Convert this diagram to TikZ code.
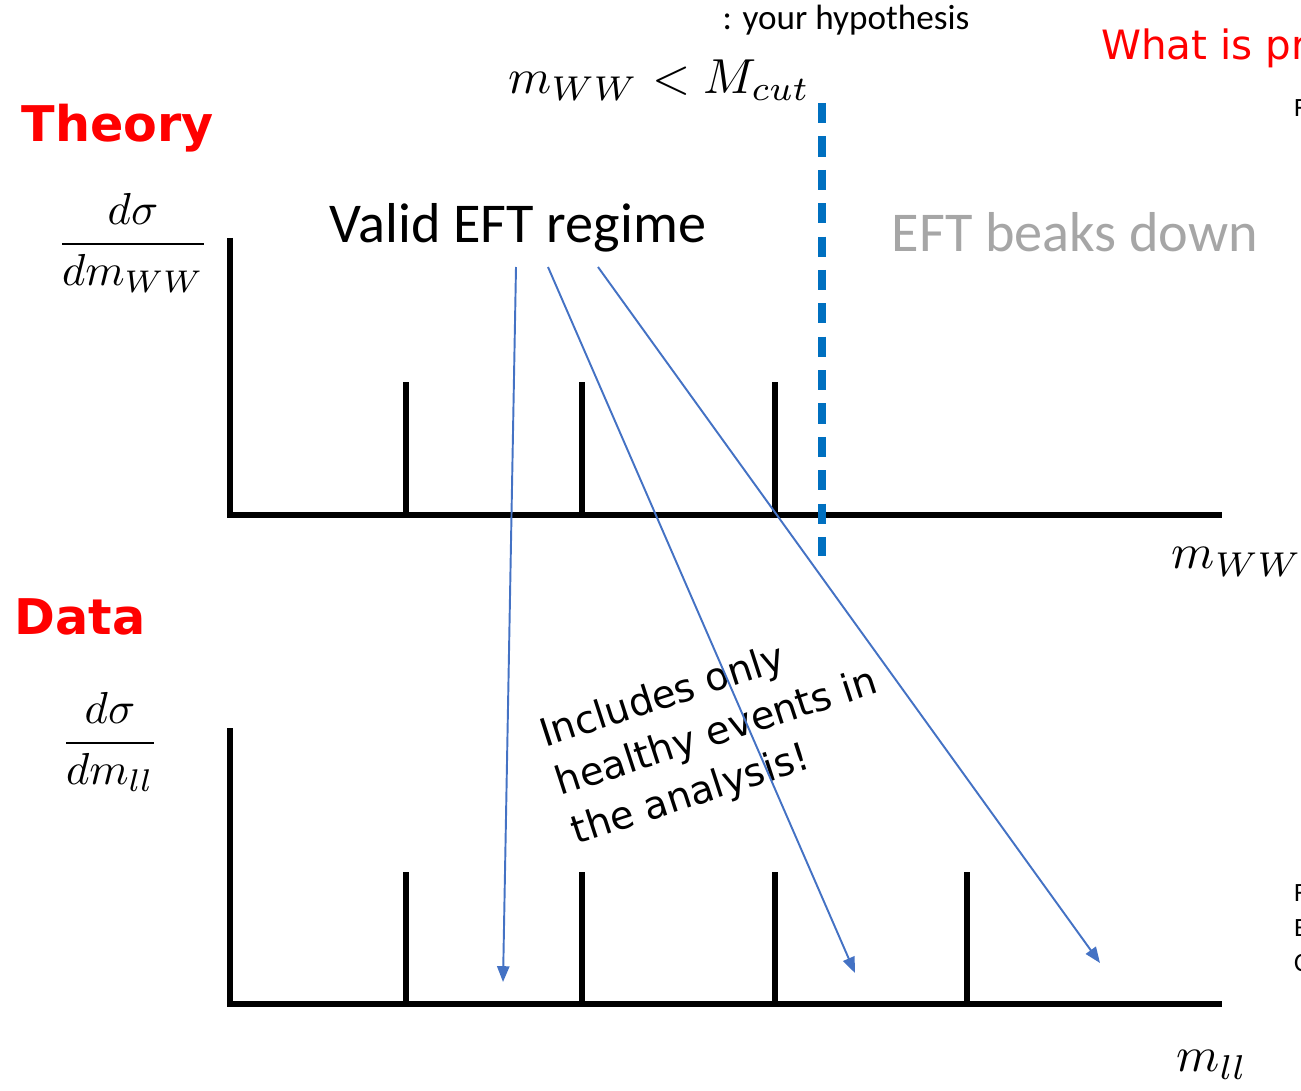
\documentclass[tikz,border=0pt]{standalone}
\usepackage{amsmath}
\usepackage{graphicx}
\usepackage{fontspec}
\setmainfont{Carlito}
\newfontfamily\comicfont{DejaVu Sans}
\usetikzlibrary{arrows.meta}
\definecolor{cutblue}{HTML}{0070C0}
\definecolor{arrowblue}{HTML}{4472C4}
\definecolor{gristext}{HTML}{A6A6A6}
\newcommand{\grosmath}[1]{\scalebox{2.8}{$#1$}}
\newcommand{\fracmath}[1]{\scalebox{2.55}{$#1$}}
\tikzset{axe/.style={
    line width=3.4pt}}
\tikzset{trait/.style={
    line width=3.2pt}}
\tikzset{fleche/.style={
    -{Triangle[length=9pt,width=7pt]},
    draw=arrowblue,
    line width=1.1pt}}
\tikzset{titre/.style={
    text=red,
    font=\comicfont\bfseries\fontsize{28}{32}\selectfont}}
\tikzset{grand/.style={
    font=\fontsize{32}{38}\selectfont}}

\begin{document}
\begin{tikzpicture}[x=0.02cm, y=-0.02cm]
  \clip (0,0) rectangle (1301,1091);
  \coordinate (H1) at (230,238);
\coordinate (O1) at (230,515);
\coordinate (X1) at (1222,515);
\coordinate (H2) at (230,728);
\coordinate (O2) at (230,1004);
\coordinate (X2) at (1222,1004);

% top axes
\draw[axe] (H1) -- (O1) -- (X1);
\foreach \x in {406,582,775}
  \draw[trait] (\x,382) -- (\x,515);

% bottom axes
\draw[axe] (H2) -- (O2) -- (X2);
\foreach \x in {406,582,775,967}
  \draw[trait] (\x,872) -- (\x,1004);

% cut
\draw[draw=cutblue,
  line width=4pt,
  dash pattern=on 11.5pt off 7.5pt] (822,103) -- (822,556);

\node[titre] (theory) at (118,128) {Theory};
\node[titre] (data) at (80,617) {Data};

\node (fracww) at (133,243) {\fracmath{\dfrac{d\sigma}{dm_{WW}}}};
\node (fracll) at (110,742) {\fracmath{\dfrac{d\sigma}{dm_{ll}}}};

\node (mcut) at (659,80) {\grosmath{m_{WW} < M_{cut}}};
\node[font=\fontsize{20}{24}\selectfont] (hypo) at (846,20) {: your hypothesis};
\node[anchor=west,
  text=red,
  font=\comicfont\fontsize{23}{28}\selectfont] (whatis) at (1095,48) {What is pr};

\node[grand] (valid) at (518,228) {Valid EFT regime};
\node[grand,
  text=gristext] (down) at (1075,232) {EFT beaks down};

\node (mww) at (1237,562) {\grosmath{m_{WW}}};
\node (mll) at (1212,1065) {\grosmath{m_{ll}}};

\node[anchor=west,
  font=\fontsize{15}{18}\selectfont] (f1) at (1288,108) {F};
\node[anchor=west,
  font=\fontsize{15}{18}\selectfont] (f2) at (1288,893) {F};
\node[anchor=west,
  font=\fontsize{15}{18}\selectfont] (f3) at (1288,928) {E};
\node[anchor=west,
  font=\fontsize{15}{18}\selectfont] (f4) at (1288,963) {C};

\node[rotate=18,
  align=left,
  font=\comicfont\fontsize{22}{29}\selectfont] (healthy) at (717,734) {Includes only\\healthy events in\\the analysis!};

\coordinate (s1) at (516,267);
\coordinate (s2) at (548,267);
\coordinate (s3) at (598,267);
\coordinate (e1) at (503,982);
\coordinate (e2) at (855,973);
\coordinate (e3) at (1100,963);

  \draw[fleche] (s1) -- (e1);
  \draw[fleche] (s2) -- (e2);
  \draw[fleche] (s3) -- (e3);
\end{tikzpicture}
\end{document}
